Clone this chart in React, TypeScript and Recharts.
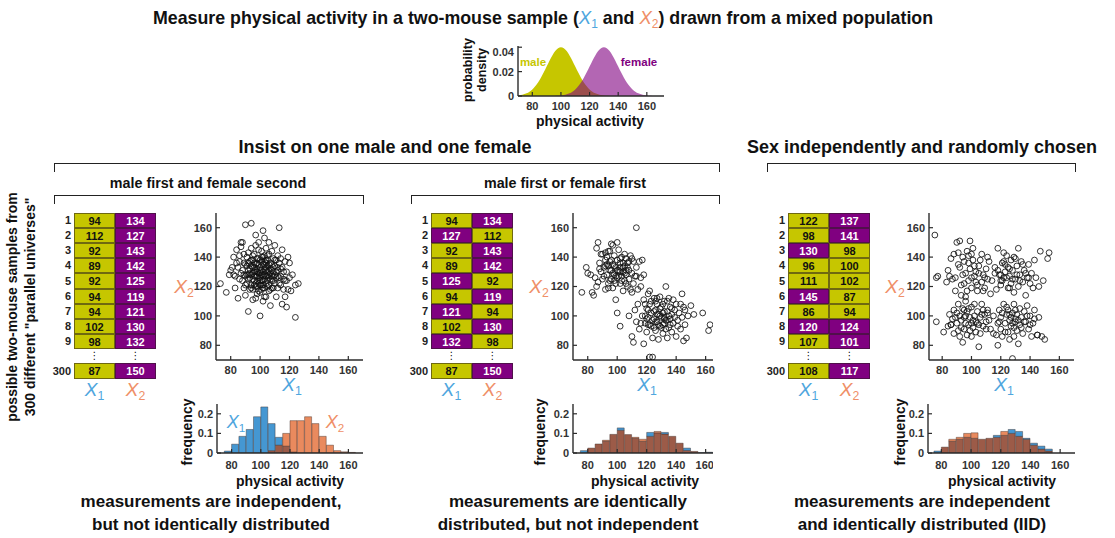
import React from "react";
import {Area, AreaChart, Bar, BarChart, Scatter, ScatterChart, XAxis, YAxis} from "recharts";

const FONT = "'Liberation Sans', Arial, Helvetica, sans-serif";
const YELLOW = "#c6c600";
const PURPLE = "#800080";
const BLUE_TXT = "#4fa6de";
const SALMON_TXT = "#ef8f68";
const HIST_BLUE = "#4597d2";
const HIST_ORANGE = "#e98a5e";
const HIST_BOTH = "#9c5b48";
const AXIS = "#2b2b2b";

// population densities
const densityX = [70, 72, 74, 76, 78, 80, 82, 84, 86, 88, 90, 92, 94, 96, 98, 100, 102, 104, 106, 108, 110, 112, 114, 116, 118, 120,
    122, 124, 126, 128, 130, 132, 134, 136, 138, 140, 142, 144, 146, 148, 150, 152, 154, 156, 158, 160, 162, 164, 166, 168, 170, 172];
const maleDensity = [0.0004, 0.0008, 0.0014, 0.0022, 0.0035, 0.0054, 0.0079, 0.0111, 0.015, 0.0194, 0.0242, 0.029, 0.0333, 0.0368, 0.0391, 0.0399,
    0.0391, 0.0368, 0.0333, 0.029, 0.0242, 0.0194, 0.015, 0.0111, 0.0079, 0.0054, 0.0035, 0.0022, 0.0014, 0.0008, 0.0004, 0.0002, 0.0001,
    0, 0, 0, 0, 0, 0, 0, 0, 0, 0, 0, 0, 0, 0, 0, 0, 0, 0, 0];
const femaleDensity = [0, 0, 0, 0, 0, 0, 0, 0, 0, 0, 0, 0, 0, 0.0001, 0.0002, 0.0004, 0.0008, 0.0014, 0.0022, 0.0035, 0.0054, 0.0079, 0.0111,
    0.015, 0.0194, 0.0242, 0.029, 0.0333, 0.0368, 0.0391, 0.0399, 0.0391, 0.0368, 0.0333, 0.029, 0.0242, 0.0194, 0.015, 0.0111, 0.0079,
    0.0054, 0.0035, 0.0022, 0.0014, 0.0008, 0.0004, 0.0002, 0.0001, 0, 0, 0, 0];

// histogram bins (width 5, 70..170)
const binMids = [72.5, 77.5, 82.5, 87.5, 92.5, 97.5, 102.5, 107.5, 112.5, 117.5, 122.5, 127.5, 132.5, 137.5, 142.5, 147.5, 152.5, 157.5, 162.5, 167.5];
const hist1X1 = [0, 0.01, 0.045, 0.085, 0.12, 0.185, 0.235, 0.15, 0.08, 0.035, 0.005, 0, 0, 0, 0, 0, 0, 0, 0, 0];
const hist1X2 = [0, 0, 0, 0, 0, 0, 0, 0.012, 0.04, 0.1, 0.165, 0.165, 0.185, 0.15, 0.085, 0.04, 0.012, 0.006, 0.003, 0];
const hist2X1 = [0, 0.012, 0.025, 0.046, 0.06, 0.095, 0.128, 0.094, 0.075, 0.06, 0.105, 0.103, 0.105, 0.085, 0.05, 0.025, 0.008, 0.002, 0.004, 0];
const hist2X2 = [0, 0, 0.025, 0.046, 0.065, 0.095, 0.116, 0.094, 0.08, 0.07, 0.085, 0.11, 0.097, 0.085, 0.05, 0.013, 0.008, 0, 0, 0];
const hist3X1 = [0, 0.01, 0.03, 0.06, 0.07, 0.08, 0.075, 0.07, 0.075, 0.09, 0.09, 0.12, 0.11, 0.075, 0.05, 0.035, 0.02, 0, 0, 0];
const hist3X2 = [0, 0, 0.03, 0.07, 0.08, 0.1, 0.103, 0.07, 0.075, 0.08, 0.11, 0.1, 0.085, 0.07, 0.04, 0.02, 0.01, 0, 0, 0];

// sample tables: first 9 universes + universe 300
const rowLabels = ["1", "2", "3", "4", "5", "6", "7", "8", "9", "300"];
const table1X1 = [94, 112, 92, 89, 92, 94, 94, 102, 98, 87];
const table1X2 = [134, 127, 143, 142, 125, 119, 121, 130, 132, 150];
const table1Sex1 = ["M", "M", "M", "M", "M", "M", "M", "M", "M", "M"];
const table1Sex2 = ["F", "F", "F", "F", "F", "F", "F", "F", "F", "F"];
const table2X1 = [94, 127, 92, 89, 125, 94, 121, 102, 132, 87];
const table2X2 = [134, 112, 143, 142, 92, 119, 94, 130, 98, 150];
const table2Sex1 = ["M", "F", "M", "M", "F", "M", "F", "M", "F", "M"];
const table2Sex2 = ["F", "M", "F", "F", "M", "F", "M", "F", "M", "F"];
const table3X1 = [122, 98, 130, 96, 111, 145, 86, 120, 107, 108];
const table3X2 = [137, 141, 98, 100, 102, 87, 94, 124, 101, 117];
const table3Sex1 = ["M", "M", "F", "M", "M", "F", "M", "F", "M", "M"];
const table3Sex2 = ["F", "F", "M", "M", "M", "M", "M", "F", "F", "F"];

// scatter points (x1, x2)
const scatter1 = [
    [94, 134], [112, 127], [92, 143], [89, 142], [92, 125], [94, 119], [94, 121], [102, 130], [98, 132], [87, 150],
    [73, 122], [77, 116], [80, 131], [81, 133], [82, 128], [83, 119], [84, 145], [85, 112], [86, 125], [86, 137],
    [87, 147], [88, 150], [88, 131], [89, 119], [89, 128], [90, 162], [90, 135], [90, 114], [91, 140], [91, 122],
    [92, 103], [92, 131], [93, 137], [93, 118], [93, 126], [94, 163], [94, 146], [95, 129], [95, 111], [95, 138],
    [96, 124], [96, 133], [96, 142], [97, 120], [97, 127], [97, 148], [98, 136], [98, 115], [98, 124], [99, 150],
    [99, 129], [99, 139], [100, 100], [100, 121], [100, 133], [100, 126], [101, 144], [101, 118], [101, 131], [101, 137],
    [102, 158], [102, 110], [102, 124], [102, 140], [103, 128], [103, 135], [103, 119], [103, 153], [104, 131], [104, 122],
    [104, 146], [104, 113], [105, 127], [105, 138], [105, 134], [106, 121], [106, 142], [106, 117], [107, 129], [107, 136],
    [107, 107], [108, 124], [108, 144], [108, 131], [109, 119], [109, 139], [109, 127], [110, 134], [110, 122], [110, 148],
    [111, 113], [111, 130], [112, 141], [112, 119], [113, 160], [113, 126], [113, 136], [114, 121], [114, 132], [115, 108],
    [115, 145], [116, 125], [116, 118], [117, 137], [117, 113], [118, 106], [118, 130], [119, 118], [120, 136], [121, 117],
    [122, 128], [124, 99], [124, 121], [126, 122], [97, 112], [95, 133], [91, 128], [88, 124], [85, 133], [83, 127],
    [99, 145], [102, 135], [104, 127], [106, 131], [98, 127], [96, 130], [101, 128], [103, 132], [100, 138], [97, 131],
    [105, 120], [108, 135], [92, 136], [94, 128], [99, 122], [102, 119], [110, 128], [86, 141], [79, 128], [115, 133],
    [93, 132], [96, 121], [98, 139], [100, 129], [101, 124], [103, 141], [105, 130], [107, 125], [109, 133], [111, 138],
    [90, 127], [95, 125], [97, 135], [99, 117], [104, 136], [106, 126], [108, 119], [112, 133], [114, 127], [117, 124],
    [91, 134], [93, 129], [95, 141], [96, 127], [97, 122], [98, 130], [99, 135], [100, 131], [100, 124], [101, 140],
    [102, 127], [102, 121], [103, 125], [104, 138], [104, 133], [105, 124], [105, 141], [106, 135], [106, 128], [107, 132],
    [107, 118], [108, 127], [109, 130], [109, 124], [110, 138], [111, 126], [112, 131], [113, 122], [114, 139], [116, 130],
    [89, 136], [90, 121], [92, 128], [94, 138], [95, 118], [96, 136], [98, 120], [99, 126], [101, 121], [103, 137],
    [87, 129], [84, 136], [82, 140], [118, 124], [119, 140], [120, 126], [103, 113], [97, 155], [106, 150], [100, 116],
];
const scatter2 = [
    [94, 134], [127, 112], [92, 143], [89, 142], [125, 92], [94, 119], [121, 94], [102, 130], [132, 98], [87, 150],
    [76, 116], [79, 133], [80, 129], [82, 128], [83, 116], [84, 114], [85, 126], [86, 146], [87, 123], [88, 136],
    [89, 130], [90, 142], [90, 125], [91, 133], [92, 118], [93, 140], [93, 128], [94, 144], [94, 122], [95, 131],
    [95, 137], [96, 149], [96, 125], [97, 135], [97, 119], [98, 141], [98, 128], [99, 133], [99, 111], [100, 102],
    [100, 138], [100, 126], [101, 145], [101, 131], [102, 122], [102, 136], [103, 140], [103, 127], [104, 130], [104, 117],
    [105, 134], [105, 124], [106, 139], [106, 128], [107, 120], [107, 136], [108, 131], [108, 125], [109, 141], [109, 118],
    [110, 129], [111, 137], [111, 122], [112, 127], [113, 160], [113, 133], [114, 118], [115, 137], [116, 126], [117, 138],
    [118, 128], [110, 116], [96, 131], [99, 127], [102, 133], [104, 136], [98, 124], [106, 131], [92, 134],
    [91, 127], [93, 135], [95, 124], [96, 138], [97, 129], [98, 134], [99, 122], [100, 131], [101, 127], [102, 139],
    [103, 124], [104, 133], [105, 129], [106, 122], [107, 133], [108, 137], [95, 144], [92, 138], [88, 132], [86, 120],
    [97, 148], [100, 150], [105, 142], [113, 127], [110, 139],
    [108, 100], [110, 86], [111, 82], [112, 104], [113, 96], [114, 108], [115, 91], [116, 120], [117, 100], [118, 81],
    [118, 111], [119, 95], [120, 105], [120, 89], [121, 99], [122, 72], [122, 117], [122, 108], [123, 93], [123, 102],
    [124, 72], [124, 85], [125, 112], [125, 98], [126, 104], [126, 90], [127, 96], [127, 108], [128, 101], [128, 84],
    [129, 113], [129, 93], [130, 99], [130, 106], [131, 88], [131, 102], [132, 95], [132, 110], [133, 120], [133, 97],
    [134, 103], [134, 85], [135, 112], [135, 92], [136, 98], [136, 106], [137, 89], [137, 101], [138, 111], [138, 95],
    [139, 104], [140, 86], [140, 108], [141, 97], [142, 102], [143, 91], [144, 115], [144, 99], [145, 83], [145, 106],
    [146, 94], [147, 85], [148, 100], [150, 107], [152, 101], [158, 102], [162, 90], [163, 94], [102, 93], [119, 100],
    [126, 96], [129, 100], [132, 103], [134, 97], [131, 94],
    [119, 108], [120, 98], [121, 104], [122, 94], [123, 110], [124, 97], [125, 103], [126, 110], [127, 101], [128, 94],
    [129, 105], [130, 92], [131, 108], [132, 99], [133, 91], [134, 110], [135, 100], [136, 94], [137, 105], [139, 99],
    [141, 93], [143, 108], [146, 104], [116, 95], [121, 115],
];
const scatter3 = [
    [122, 137], [98, 141], [130, 98], [96, 100], [111, 102], [145, 87], [86, 94], [120, 124], [107, 101], [108, 117],
    [76, 96], [81, 89], [84, 93], [85, 101], [86, 94], [88, 88], [88, 104], [89, 99], [90, 95], [91, 108],
    [92, 86], [92, 100], [93, 97], [94, 82], [94, 105], [95, 91], [95, 99], [96, 110], [97, 87], [97, 103],
    [98, 94], [99, 99], [100, 86], [100, 106], [101, 92], [102, 100], [103, 89], [103, 96], [104, 103], [105, 79],
    [105, 94], [106, 99], [107, 108], [108, 93], [109, 101], [110, 96], [111, 104], [112, 97], [113, 91], [115, 100],
    [87, 98], [90, 102], [93, 92], [96, 95], [98, 105], [99, 90], [101, 97], [102, 108], [104, 95], [106, 88],
    [108, 104], [110, 91], [91, 90], [95, 104], [100, 95],
    [75, 155], [76, 126], [77, 127], [83, 123], [84, 131], [86, 139], [87, 125], [88, 142], [89, 117], [90, 150],
    [91, 143], [92, 133], [92, 151], [93, 121], [94, 128], [95, 137], [96, 113], [97, 144], [98, 124], [99, 151],
    [99, 132], [100, 119], [101, 138], [101, 146], [102, 127], [103, 130], [104, 121], [105, 134], [106, 138], [107, 123],
    [108, 128], [109, 119], [110, 132], [111, 125], [113, 115], [112, 137], [116, 129], [95, 122], [100, 126], [104, 117],
    [89, 126], [91, 135], [94, 140], [96, 129], [98, 136], [100, 142], [102, 134], [103, 123], [105, 129], [107, 142],
    [109, 126], [93, 114], [97, 117], [85, 127], [111, 140],
    [115, 88], [117, 87], [118, 80], [118, 95], [119, 104], [120, 91], [120, 99], [121, 86], [122, 108], [123, 95],
    [124, 101], [125, 89], [125, 104], [126, 97], [127, 93], [128, 71], [128, 102], [129, 108], [129, 86], [130, 96],
    [131, 101], [131, 90], [132, 81], [133, 105], [133, 94], [134, 99], [135, 88], [136, 103], [137, 96], [138, 107],
    [139, 91], [140, 100], [141, 86], [142, 95], [143, 104], [145, 87], [146, 99], [148, 86], [150, 84], [127, 99],
    [119, 96], [121, 102], [123, 89], [124, 106], [126, 101], [128, 95], [129, 92], [130, 104], [132, 97], [134, 92],
    [136, 96], [138, 100], [140, 94], [126, 84], [143, 98],
    [114, 124], [116, 133], [117, 118], [118, 146], [119, 128], [120, 121], [121, 136], [122, 126], [123, 130], [124, 141],
    [125, 119], [125, 133], [126, 127], [127, 138], [127, 122], [128, 131], [129, 116], [129, 140], [130, 125], [131, 134],
    [132, 146], [132, 120], [133, 128], [134, 137], [135, 123], [136, 131], [137, 114], [138, 126], [139, 135], [140, 122],
    [141, 129], [142, 119], [143, 138], [144, 126], [146, 120], [147, 144], [149, 124], [152, 139], [153, 143],
    [118, 131], [120, 128], [121, 124], [123, 135], [124, 126], [126, 132], [128, 125], [130, 139], [131, 128], [133, 124],
    [135, 135], [137, 129], [139, 126], [126, 119], [122, 143],
];

const activityTicks = [80, 100, 120, 140, 160];

type Rect = { x: number, y: number, w: number, h: number };

const tickFont = {fontSize: 11, fontWeight: 700, fill: "#333", fontFamily: FONT};
const axisLine = {stroke: AXIS, strokeWidth: 1.4};
const tickLine = {stroke: AXIS, strokeWidth: 1.2};

function Txt({x, y, size = 13, color = "#111", weight = 700, rotate = false, children, lineHeight}: any) {
    return (
        <div style={{
            position: "absolute", left: x, top: y, transform: `translate(-50%, -50%)${rotate ? " rotate(-90deg)" : ""}`,
            fontSize: size, color, fontWeight: weight, fontFamily: FONT, whiteSpace: "nowrap", textAlign: "center",
            lineHeight: lineHeight ? `${lineHeight}px` : "normal",
        }}>{children}</div>
    );
}

function XVar({n, color, size = 19}: { n: string, color: string, size?: number }) {
    return (
        <span style={{color, fontSize: size, fontStyle: "italic", fontWeight: 400, fontFamily: FONT}}>
            X<span style={{fontSize: "0.65em", fontStyle: "normal", position: "relative", top: "0.3em"}}>{n}</span>
        </span>
    );
}

function Bracket({x1, x2, y, drop = 9}: { x1: number, x2: number, y: number, drop?: number }) {
    return <div style={{
        position: "absolute", left: x1, top: y, width: x2 - x1, height: drop, boxSizing: "border-box",
        borderTop: "1.6px solid #222", borderLeft: "1.6px solid #222", borderRight: "1.6px solid #222",
    }}/>;
}

function SampleTable({left, x1, x2, s1, s2}: { left: number, x1: number[], x2: number[], s1: string[], s2: string[] }) {
    const colW = 41, rowH = 15.1, top = 213;
    const cell = (val: number, sex: string, cx: number, cy: number, h: number, key: string) => (
        <div key={key} style={{
            position: "absolute", left: cx, top: cy, width: colW, height: h, boxSizing: "border-box",
            background: sex === "M" ? YELLOW : PURPLE, color: sex === "M" ? "#111" : "#fff",
            border: "1px solid rgba(40,30,30,0.55)", fontSize: 11, fontWeight: 700, fontFamily: FONT,
            display: "flex", alignItems: "center", justifyContent: "center",
        }}>{val}</div>
    );
    const rows = [];
    for (let i = 0; i < 10; i++) {
        const cy = i < 9 ? Math.round(top + i * rowH) : 363;
        const h = i < 9 ? Math.round(top + (i + 1) * rowH) - cy : 16;
        rows.push(
            <div key={"l" + i} style={{
                position: "absolute", left: left - 40, top: cy, width: 37, height: h, textAlign: "right",
                fontSize: 11, fontWeight: 700, fontFamily: FONT, color: "#222", lineHeight: `${h}px`,
            }}>{rowLabels[i]}</div>
        );
        rows.push(cell(x1[i], s1[i], left, cy, h, "a" + i));
        rows.push(cell(x2[i], s2[i], left + colW, cy, h, "b" + i));
    }
    return (
        <>
            {rows}
            <Txt x={left + colW / 2} y={355} size={10} weight={400}><span style={{fontFamily: "DejaVu Sans"}}>⋮</span></Txt>
            <Txt x={left + colW * 1.5} y={355} size={10} weight={400}><span style={{fontFamily: "DejaVu Sans"}}>⋮</span></Txt>
            <Txt x={left + colW / 2} y={390}><XVar n="1" color={BLUE_TXT}/></Txt>
            <Txt x={left + colW * 1.5} y={390}><XVar n="2" color={SALMON_TXT}/></Txt>
        </>
    );
}

const OpenCircle = (p: any) => <circle cx={p.cx} cy={p.cy} r={2.9} fill="none" stroke="#111" strokeWidth={0.85}/>;

function ScatterPanel({rect, points, domain}: { rect: Rect, points: number[][], domain: number[] }) {
    const L = 40, T = 4, R = 4, B = 24;
    const data = points.map(([x, y]) => ({x, y}));
    return (
        <div style={{position: "absolute", left: rect.x - L, top: rect.y - T}}>
            <ScatterChart width={rect.w + L + R} height={rect.h + T + B} margin={{top: T, right: R, bottom: 0, left: 0}}>
                <XAxis type="number" dataKey="x" domain={domain} ticks={activityTicks} allowDataOverflow height={B}
                       tickSize={-4} tickMargin={10} axisLine={axisLine} tickLine={tickLine} tick={tickFont}/>
                <YAxis type="number" dataKey="y" domain={[70, 170]} ticks={activityTicks} allowDataOverflow width={L}
                       tickSize={-4} tickMargin={8} axisLine={axisLine} tickLine={tickLine} tick={tickFont}/>
                <Scatter data={data} shape={OpenCircle} isAnimationActive={false}/>
            </ScatterChart>
        </div>
    );
}

function HistPanel({rect, blue, orange, domain}: { rect: Rect, blue: number[], orange: number[], domain: number[] }) {
    const L = 38, B = 20;
    const data = binMids.map((mid, i) => ({
        mid,
        both: Math.min(blue[i], orange[i]),
        blueEx: Math.max(blue[i] - orange[i], 0),
        orangeEx: Math.max(orange[i] - blue[i], 0),
    }));
    const edge = {stroke: "#3a2a25", strokeWidth: 0.6, strokeOpacity: 0.7};
    return (
        <div style={{position: "absolute", left: rect.x - L, top: rect.y}}>
            <BarChart width={rect.w + L} height={rect.h + B} data={data} margin={{top: 0, right: 0, bottom: 0, left: 0}}
                      barCategoryGap={0} barGap={0}>
                <XAxis xAxisId="b" type="number" dataKey="mid" domain={domain} ticks={activityTicks} allowDataOverflow height={B}
                       tickSize={-4} tickMargin={12} axisLine={axisLine} tickLine={tickLine} tick={tickFont}/>
                <XAxis xAxisId="t" orientation="top" type="number" dataKey="mid" domain={domain} ticks={activityTicks} allowDataOverflow
                       height={0} tickSize={-4} tick={false} axisLine={axisLine} tickLine={tickLine}/>
                <YAxis yAxisId="l" type="number" domain={[0, 0.25]} ticks={[0, 0.1, 0.2]} allowDataOverflow width={L}
                       tickSize={-4} tickMargin={8} axisLine={axisLine} tickLine={tickLine} tick={tickFont}/>
                <YAxis yAxisId="r" orientation="right" type="number" domain={[0, 0.25]} ticks={[0, 0.1, 0.2]} allowDataOverflow
                       width={0} tickSize={-4} tick={false} axisLine={axisLine} tickLine={tickLine}/>
                <Bar xAxisId="b" yAxisId="l" dataKey="both" stackId="h" fill={HIST_BOTH} {...edge} isAnimationActive={false}/>
                <Bar xAxisId="b" yAxisId="l" dataKey="blueEx" stackId="h" fill={HIST_BLUE} {...edge} isAnimationActive={false}/>
                <Bar xAxisId="b" yAxisId="l" dataKey="orangeEx" stackId="h" fill={HIST_ORANGE} {...edge} isAnimationActive={false}/>
            </BarChart>
        </div>
    );
}

function DensityPanel() {
    const rect = {x: 518, y: 46, w: 146, h: 50};
    const L = 38, B = 18;
    const data = densityX.map((x, i) => ({x, male: maleDensity[i], female: femaleDensity[i]}));
    return (
        <div style={{position: "absolute", left: rect.x - L, top: rect.y}}>
            <AreaChart width={rect.w + L} height={rect.h + B} data={data} margin={{top: 0, right: 0, bottom: 0, left: 0}}>
                <XAxis xAxisId="b" type="number" dataKey="x" domain={[70, 172]} ticks={activityTicks} allowDataOverflow height={B}
                       tickSize={-4} tickMargin={10} axisLine={axisLine} tickLine={tickLine} tick={tickFont}/>
                <XAxis xAxisId="t" orientation="top" type="number" dataKey="x" domain={[70, 172]} ticks={activityTicks} allowDataOverflow
                       height={0} tickSize={-4} tick={false} axisLine={axisLine} tickLine={tickLine}/>
                <YAxis yAxisId="l" type="number" domain={[0, 0.041]} ticks={[0, 0.02, 0.04]} allowDataOverflow width={L}
                       tickSize={-4} tickMargin={8} axisLine={axisLine} tickLine={tickLine} tick={tickFont}/>
                <YAxis yAxisId="r" orientation="right" type="number" domain={[0, 0.041]} ticks={[0, 0.02, 0.04]} allowDataOverflow
                       width={0} tickSize={-4} tick={false} axisLine={axisLine} tickLine={tickLine}/>
                <Area xAxisId="b" yAxisId="l" type="monotone" dataKey="male" fill={YELLOW} fillOpacity={1} stroke="none" isAnimationActive={false}/>
                <Area xAxisId="b" yAxisId="l" type="monotone" dataKey="female" fill={PURPLE} fillOpacity={0.6} stroke="none" isAnimationActive={false}/>
            </AreaChart>
        </div>
    );
}

export default function App() {
    const s1 = {x: 216, y: 213, w: 147, h: 147};
    const s2 = {x: 573, y: 213, w: 140, h: 147};
    const s3 = {x: 929, y: 213, w: 145, h: 147};
    return (
        <div style={{position: "absolute", left: 0, top: 0, width: 1115, height: 538, background: "#fff", overflow: "hidden", fontFamily: FONT}}>
            <Txt x={543} y={18} size={17.8}>
                Measure physical activity in a two-mouse sample (<XVar n="1" color={BLUE_TXT} size={18.5}/> and <XVar n="2" color={SALMON_TXT} size={18.5}/>) drawn from a mixed population
            </Txt>

            <DensityPanel/>
            <Txt x={533} y={62} size={11.5} color={YELLOW}>male</Txt>
            <Txt x={639} y={62} size={11.5} color={PURPLE}>female</Txt>
            <Txt x={475} y={70} size={12.5} rotate lineHeight={14}>probability<br/>density</Txt>
            <Txt x={590} y={121} size={14}>physical activity</Txt>

            <Txt x={385} y={147} size={18}>Insist on one male and one female</Txt>
            <Txt x={922} y={147} size={18}>Sex independently and randomly chosen</Txt>
            <Bracket x1={54} x2={720} y={163}/>
            <Bracket x1={767} x2={1076} y={163}/>
            <Txt x={208} y={183} size={14.3}>male first and female second</Txt>
            <Txt x={565} y={183} size={14.3}>male first or female first</Txt>
            <Bracket x1={54} x2={364} y={195}/>
            <Bracket x1={411} x2={720} y={195}/>

            <Txt x={21} y={307} size={14} rotate lineHeight={18}>possible two-mouse samples from<br/>300 different "parallel universes"</Txt>

            <SampleTable left={74} x1={table1X1} x2={table1X2} s1={table1Sex1} s2={table1Sex2}/>
            <SampleTable left={431} x1={table2X1} x2={table2X2} s1={table2Sex1} s2={table2Sex2}/>
            <SampleTable left={788} x1={table3X1} x2={table3X2} s1={table3Sex1} s2={table3Sex2}/>

            <ScatterPanel rect={s1} points={scatter1} domain={[70, 170]}/>
            <ScatterPanel rect={s2} points={scatter2} domain={[70, 165]}/>
            <ScatterPanel rect={s3} points={scatter3} domain={[71, 170]}/>
            <Txt x={184} y={287}><XVar n="2" color={SALMON_TXT}/></Txt>
            <Txt x={292} y={385}><XVar n="1" color={BLUE_TXT}/></Txt>
            <Txt x={539} y={287}><XVar n="2" color={SALMON_TXT}/></Txt>
            <Txt x={647} y={385}><XVar n="1" color={BLUE_TXT}/></Txt>
            <Txt x={895} y={287}><XVar n="2" color={SALMON_TXT}/></Txt>
            <Txt x={1004} y={385}><XVar n="1" color={BLUE_TXT}/></Txt>

            <HistPanel rect={{x: 217, y: 404, w: 146, h: 49}} blue={hist1X1} orange={hist1X2} domain={[70, 170]}/>
            <HistPanel rect={{x: 573, y: 404, w: 140, h: 49}} blue={hist2X1} orange={hist2X2} domain={[70, 165]}/>
            <HistPanel rect={{x: 928, y: 404, w: 147, h: 49}} blue={hist3X1} orange={hist3X2} domain={[71, 170]}/>
            <Txt x={236} y={422}><XVar n="1" color={BLUE_TXT} size={18}/></Txt>
            <Txt x={335} y={422}><XVar n="2" color={SALMON_TXT} size={18}/></Txt>
            <Txt x={187} y={432} size={14} rotate>frequency</Txt>
            <Txt x={540} y={432} size={14} rotate>frequency</Txt>
            <Txt x={900} y={432} size={14} rotate>frequency</Txt>
            <Txt x={290} y={481} size={14}>physical activity</Txt>
            <Txt x={645} y={481} size={14}>physical activity</Txt>
            <Txt x={1002} y={481} size={14}>physical activity</Txt>

            <Txt x={211} y={513} size={17} lineHeight={23}>measurements are independent,<br/>but not identically distributed</Txt>
            <Txt x={568} y={513} size={17} lineHeight={23}>measurements are identically<br/>distributed, but not independent</Txt>
            <Txt x={922} y={513} size={17} lineHeight={23}>measurements are independent<br/>and identically distributed (IID)</Txt>
        </div>
    );
}
